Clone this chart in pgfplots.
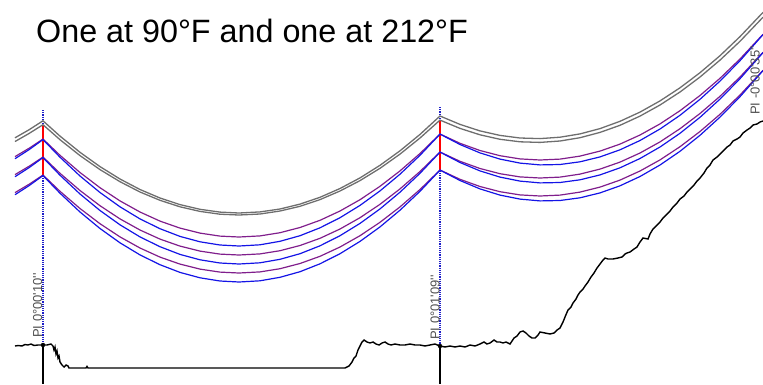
\documentclass[border=0pt]{standalone}
\usepackage{pgfplots}
\usepackage{pgfplotstable}
\pgfplotsset{compat=1.18}
\usepackage{fontspec}
\setmainfont{Liberation Sans}
\definecolor{cgray}{RGB}{110,110,110}
\definecolor{cpurple}{RGB}{128,30,140}
\definecolor{cblue}{RGB}{20,20,230}
\definecolor{cdot}{RGB}{30,30,200}
\definecolor{clbl}{RGB}{80,80,80}

\pgfplotstableread{
x g1 g2 p1 p2 p3 b1 b2 b3
15 137.8 141.5 156.6 174.6 192.6 158.7 176.7 194.7
29 129.8 133.5 148.3 166.3 184.3 149.7 167.7 185.7
43 120.8 124.7 139.0 157.0 175.0 139.6 157.6 175.6
60 136.1 139.7 155.3 173.3 191.3 157.2 175.2 193.2
80 152.3 155.6 172.5 190.5 208.5 176.0 194.0 212.0
100 166.6 169.6 187.7 205.7 223.7 192.5 210.5 228.5
120 179.0 181.7 200.9 218.9 236.9 206.8 224.8 242.8
140 189.5 192.0 212.0 230.0 248.0 218.9 236.9 254.9
160 198.0 200.3 221.1 239.1 257.1 228.7 246.7 264.7
180 204.6 206.8 228.1 246.1 264.1 236.4 254.4 272.4
200 209.3 211.4 233.1 251.1 269.1 241.8 259.8 277.8
220 212.1 214.2 236.1 254.1 272.1 245.0 263.0 281.0
239 213.0 215.0 237.0 255.0 273.0 246.0 264.0 282.0
260 211.9 214.0 235.9 253.9 271.9 244.8 262.8 280.8
280 209.0 211.0 232.7 250.7 268.7 241.3 259.3 277.3
300 204.1 206.3 227.5 245.5 263.5 235.7 253.7 271.7
320 197.3 199.6 220.3 238.3 256.3 227.8 245.8 263.8
340 188.5 191.0 211.0 229.0 247.0 217.7 235.7 253.7
360 177.9 180.6 199.7 217.7 235.7 205.4 223.4 241.4
380 165.3 168.3 186.3 204.3 222.3 190.9 208.9 226.9
400 150.8 154.1 170.9 188.9 206.9 174.2 192.2 210.2
420 134.4 138.0 153.5 171.5 189.5 155.3 173.3 191.3
440 116.0 120.1 134.0 152.0 170.0 134.1 152.1 170.1
460 124.4 128.4 143.3 161.3 179.3 144.5 162.5 180.5
480 130.9 134.8 150.5 168.5 186.5 152.9 170.9 188.9
500 135.4 139.3 155.7 173.7 191.7 159.1 177.1 195.1
520 138.0 141.8 158.9 176.9 194.9 163.1 181.1 199.1
540 138.6 142.4 160.0 178.0 196.0 164.9 182.9 200.9
560 137.2 141.0 159.1 177.1 195.1 164.5 182.5 200.5
580 133.9 137.7 156.1 174.1 192.1 161.8 179.8 197.8
600 128.6 132.4 151.1 169.1 187.1 156.9 174.9 192.9
620 121.3 125.3 144.1 162.1 180.1 149.8 167.8 185.8
640 112.1 116.1 135.0 153.0 171.0 140.5 158.5 176.5
660 100.9 105.0 123.9 141.9 159.9 129.0 147.0 165.0
680 87.8 92.0 110.7 128.7 146.7 115.3 133.3 151.3
700 72.7 77.0 95.5 113.5 131.5 99.3 117.3 135.3
720 55.7 60.1 78.3 96.3 114.3 81.1 99.1 117.1
740 36.6 41.3 59.0 77.0 95.0 60.7 78.7 96.7
763 12.4 17.2 34.3 52.3 70.3 34.6 52.6 70.6
}\wires

\pgfplotstableread{
x y
15 346
18 345.5
22 346
25 344.5
28 345
31 344
34 345.5
38 345
43 345
47 345
51 344
53 346
54 350
55 347
56 354
57 351
58 358
59 356
60 362
62 365
64 367
66 365
68 366
69 368
86 368
87 366.5
88 368
150 368
250 368
345 368
349 366
352 362
354 358
356 356
358 350
360 346
362 342
364 340
367 342
370 343
373 342
376 344
379 345
382 343
385 342
388 344
391 345
395 344
400 345
405 345
410 344
415 345
420 345
425 346
430 345
435 344
440 346
445 347
450 346
455 347
460 346
465 347
470 345
475 346
480 344
484 342
487 344
490 343
494 340
497 342
500 342
503 343
506 342
510 344
514 338
517 336
520 332
523 331
526 333
529 336
532 338
535 338
538 335
540 332
545 333
550 334
554 333
557 330
560 328
563 322
565 317
568 310
571 307
573 303
576 299
578 295
580 292
583 289
585 286
588 282
591 277
594 273
597 268
600 264
603 260
605 258
608 259
613 259
618 258
622 257
625 254
627 253
630 252
634 249
637 247
640 242
643 238
648 239
650 234
653 229
657 225
660 222
663 218
667 214
670 211
673 207
677 203
680 199
684 196
687 192
690 189
694 185
697 181
700 178
704 173
707 168
710 165
713 160
717 157
720 154
724 150
727 147
730 145
733 141
737 139
740 137
743 133
747 130
750 128
753 125
757 124
760 122
763 121
}\ground

\begin{document}
\begin{tikzpicture}
\begin{axis}[
  at={(0,0)}, anchor=south west,
  width=763pt, height=384pt, scale only axis,
  xmin=0, xmax=763, ymin=0, ymax=384,
  y dir=reverse, axis lines=none, clip=true,
]
% dotted PI lines
\addplot[cdot, line width=1.2pt, densely dotted] coordinates {(43,110) (43,345)};
\addplot[cdot, line width=1.2pt, densely dotted] coordinates {(440,107) (440,346)};
% red insulator lines
\addplot[red, line width=1.6pt] coordinates {(43,125) (43,175)};
\addplot[red, line width=1.6pt] coordinates {(440,120) (440,170)};
% wires
\addplot[cgray, line width=1.3pt] table[x=x, y=g1] {\wires};
\addplot[cgray, line width=1.3pt] table[x=x, y=g2] {\wires};
\addplot[cpurple, line width=1.2pt] table[x=x, y=p1] {\wires};
\addplot[cpurple, line width=1.2pt] table[x=x, y=p2] {\wires};
\addplot[cpurple, line width=1.2pt] table[x=x, y=p3] {\wires};
\addplot[cblue, line width=1.2pt] table[x=x, y=b1] {\wires};
\addplot[cblue, line width=1.2pt] table[x=x, y=b2] {\wires};
\addplot[cblue, line width=1.2pt] table[x=x, y=b3] {\wires};
% ground
\addplot[black, line width=1.4pt] table[x=x, y=y] {\ground};
% structures
\addplot[black, line width=1.5pt] coordinates {(43,345) (43,384)};
\addplot[black, line width=1.5pt] coordinates {(440,346) (440,384)};
\addplot[black, only marks, mark=*, mark size=2pt] coordinates {(43,345) (440,346)};
% labels
\node[anchor=base west, inner sep=0pt] at (axis cs:36,42) {\fontsize{32.3}{38}\selectfont One at 90°F and one at 212°F};
\node[anchor=base west, inner sep=0pt, rotate=90, text=clbl] at (axis cs:42,338) {\fontsize{13}{15}\selectfont PI 0°00\textquotesingle 10\textquotesingle\textquotesingle};
\node[anchor=base west, inner sep=0pt, rotate=90, text=clbl] at (axis cs:439.5,340) {\fontsize{13}{15}\selectfont PI 0°01\textquotesingle 09\textquotesingle\textquotesingle};
\node[anchor=base west, inner sep=0pt, rotate=90, text=clbl] at (axis cs:759.5,115) {\fontsize{13}{15}\selectfont PI -0°00\textquotesingle 35\textquotesingle\textquotesingle};
\end{axis}
\pgfresetboundingbox
\useasboundingbox (0,0) rectangle (763pt,384pt);
\end{tikzpicture}
\end{document}
